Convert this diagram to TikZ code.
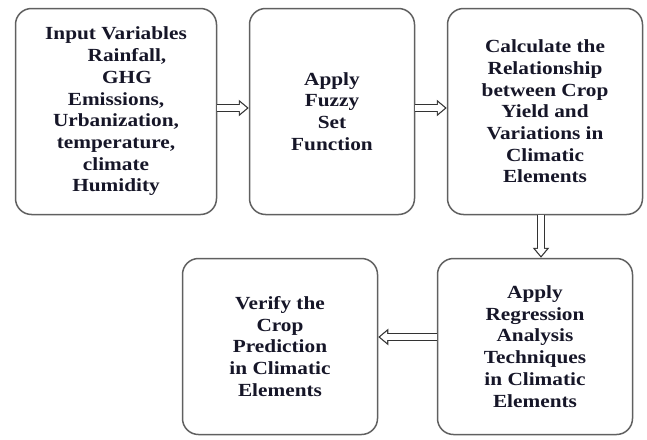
\documentclass[tikz,border=0pt]{standalone}
\usepackage{fontspec}
\setmainfont{Liberation Serif}
\newfontfamily\boxfont[FakeStretch=1.15]{Liberation Serif}
\usepackage{tikz}
\usetikzlibrary{arrows.meta}
\definecolor{boxgray}{RGB}{96, 96, 96}
\definecolor{textnavy}{RGB}{22, 22, 40}

\begin{document}
\begin{tikzpicture}[x=1pt, y=-1pt,
  stage/.style={draw=boxgray, line width=1.5pt, rounded corners=16pt, align=center,
    inner sep=0pt, text=textnavy, font=\boxfont\bfseries\fontsize{18.5}{21.7}\selectfont},
  hollow/.style={line width=8pt, draw=black!80, -{Triangle[length=10pt, width=16pt]},
    postaction={draw=white, line width=5.6pt, -{Triangle[length=6.9pt, width=11pt]}, shorten >=1.9pt},
    postaction={draw=white, line width=5.6pt, arrows=-, shorten >=6.5pt}}]
\useasboundingbox (0,0) rectangle (647,439);

% Nodes
\node[stage, minimum width=201pt, minimum height=206pt] (input) at (116,111.5)
  {Input Variables\\\hspace*{22pt}Rainfall,\\\hspace*{22pt}GHG\\Emissions,\\Urbanization,\\temperature,\\climate\\Humidity};
\node[stage, minimum width=165pt, minimum height=206pt] (fuzzy) at (332,111.5)
  {Apply\\Fuzzy\\Set\\Function};
\node[stage, minimum width=195pt, minimum height=206pt] (relation) at (545,111.5)
  {Calculate the\\Relationship\\between Crop\\Yield and\\Variations in\\Climatic\\Elements};
\node[stage, minimum width=195pt, minimum height=176pt] (regression) at (535,346.5)
  {Apply\\Regression\\Analysis\\Techniques\\in Climatic\\Elements};
\node[stage, minimum width=195pt, minimum height=176pt] (verify) at (280,346.5)
  {Verify the\\Crop\\Prediction\\in Climatic\\Elements};

% Edges
\draw[hollow] ([yshift=3.5pt]input.east) -- ([yshift=3.5pt]fuzzy.west);
\draw[hollow] ([yshift=3.5pt]fuzzy.east) -- ([yshift=3.5pt]relation.west);
\draw[hollow] ([xshift=-4pt]relation.south) -- ([xshift=-4pt]relation.south |- regression.north);
\draw[hollow] ([yshift=9.5pt]regression.west) -- ([yshift=9.5pt]regression.west -| verify.east);
\end{tikzpicture}
\end{document}
